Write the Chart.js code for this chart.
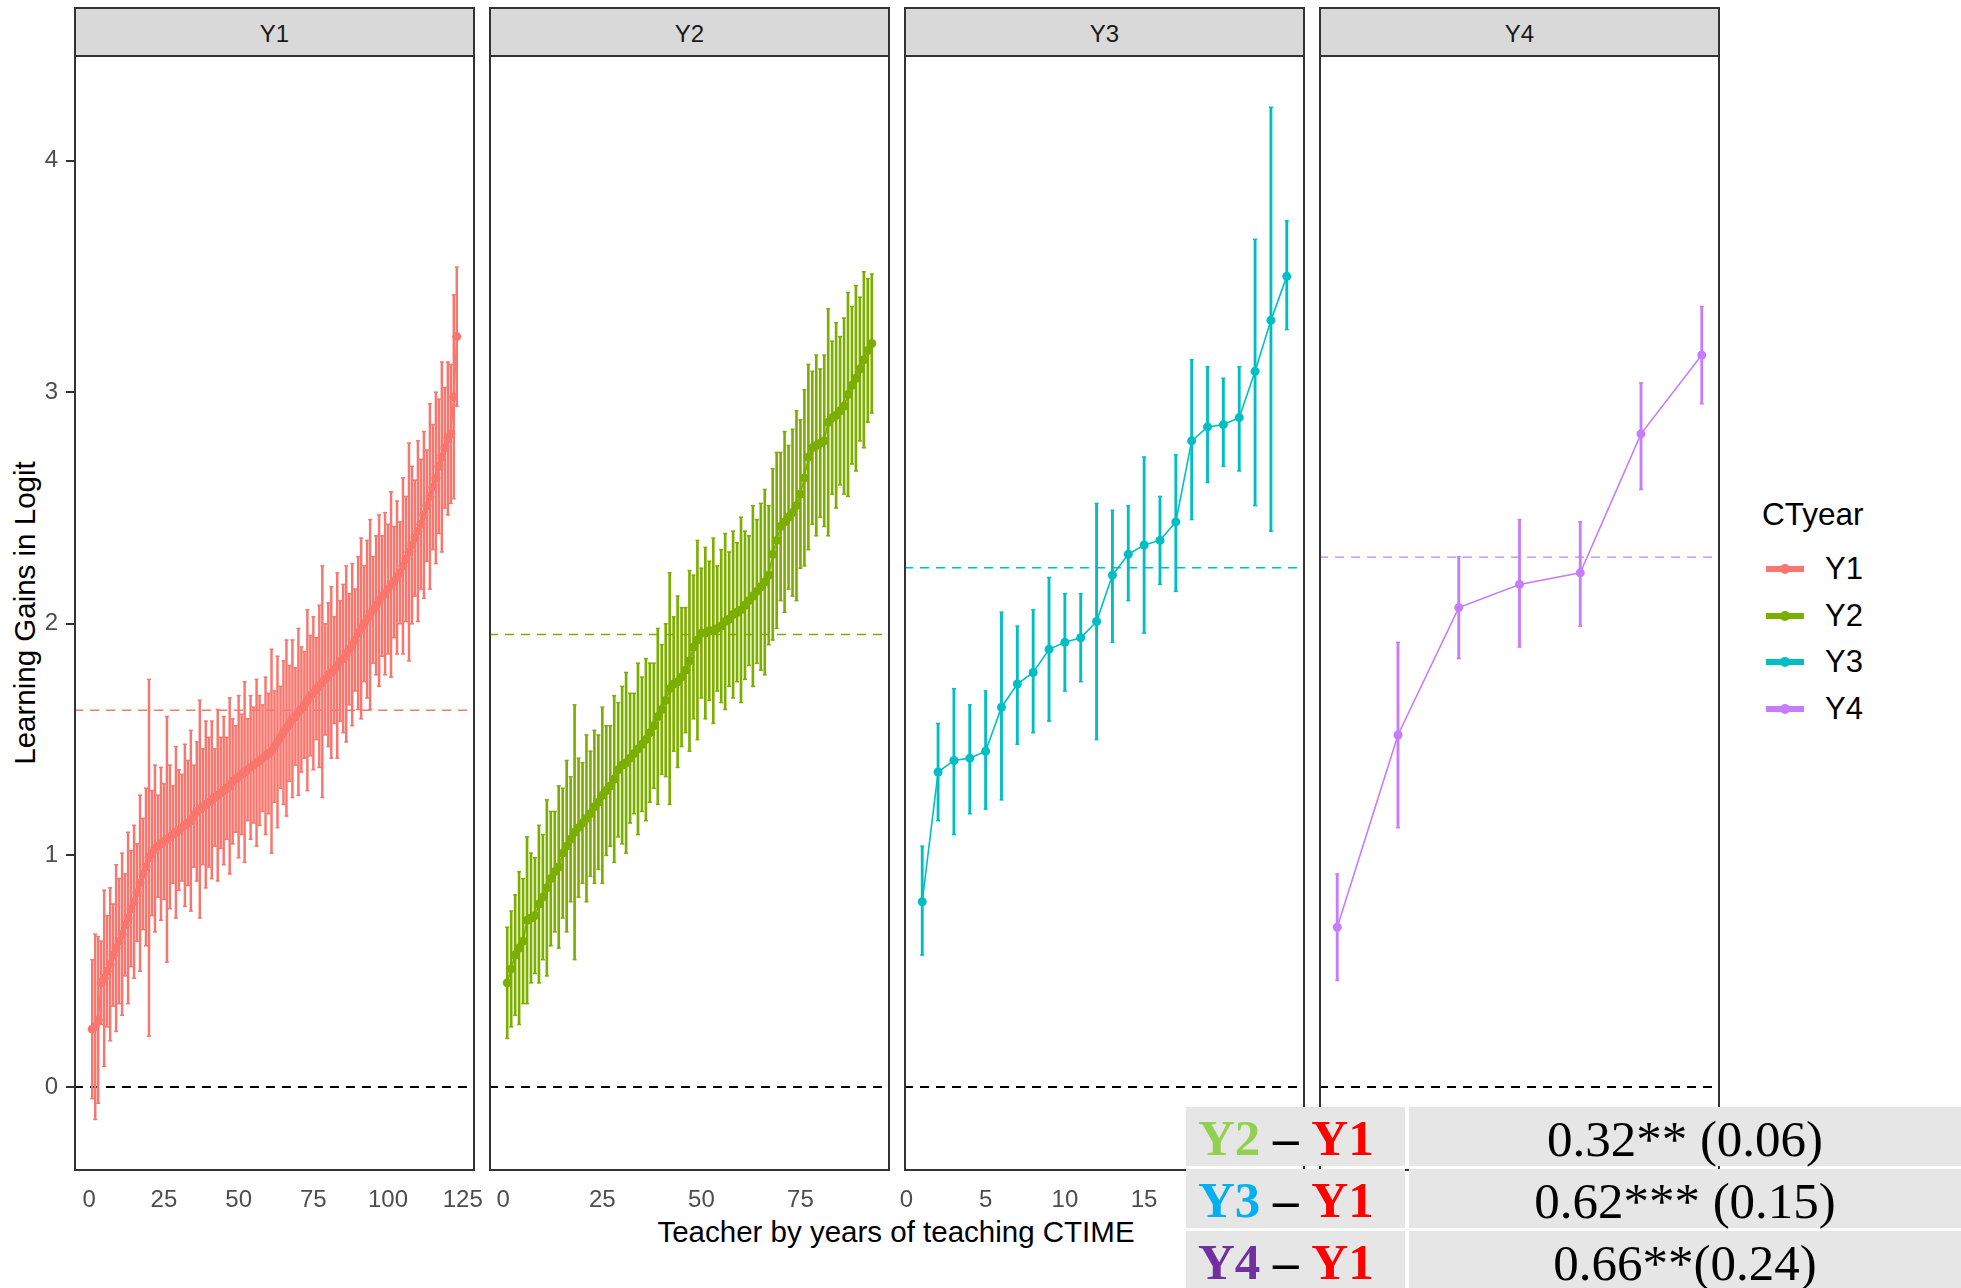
<!DOCTYPE html>
<html>
<head>
<meta charset="utf-8">
<script src="https://cdn.jsdelivr.net/npm/chart.js@4.4.1/dist/chart.umd.min.js"></script>
<style>
  body { margin: 0; background: #fff; }
  #page { position: relative; width: 1961px; height: 1288px; overflow: hidden; font-family: "Liberation Sans", Arial, sans-serif; }
  #page canvas { position: absolute; top: 0; }
  .strip { position: absolute; top: 7px; height: 50px; width: 401px; box-sizing: border-box; background: #d9d9d9; border: 2px solid #333; color: #1a1a1a; font-size: 24px; padding-top: 4px; display: flex; align-items: center; justify-content: center; z-index: 2; }
  .frame { position: absolute; top: 55px; height: 1116px; width: 401px; box-sizing: border-box; border: 2px solid #333; pointer-events: none; z-index: 2; }
  .axis-title { position: absolute; white-space: nowrap; font-size: 29.5px; color: #000; transform: translate(-50%, -50%); }
  #ytitle { left: 25px; top: 613px; transform: translate(-50%, -50%) rotate(-90deg); }
  #xtitle { left: 896px; top: 1232px; }
  #legend { position: absolute; left: 1762px; top: 494px; z-index: 2; }
  #legend .title { font-size: 31.5px; color: #000; height: 40px; line-height: 40px; margin-bottom: 12px; }
  #legend .item { position: relative; height: 46.7px; }
  #legend .key { position: absolute; left: 4px; top: 20px; width: 38px; height: 6px; }
  #legend .dot { position: absolute; left: 18px; top: 18px; width: 10px; height: 10px; border-radius: 50%; }
  #legend .label { position: absolute; left: 63px; top: 3px; font-size: 31px; line-height: 40px; color: #000; }
  #effects { position: absolute; left: 1186px; top: 1107px; width: 775px; height: 181px; z-index: 3; font-family: "Liberation Serif", "Times New Roman", serif; }
  #effects .cell { position: absolute; height: 59px; background: #e7e6e6; display: flex; align-items: center; }
  #effects .c1 { left: 0; width: 219px; font-weight: bold; font-size: 51px; padding-left: 12px; padding-top: 3px; box-sizing: border-box; }
  #effects .c2 { left: 223px; width: 552px; justify-content: center; font-size: 51px; padding-top: 4px; box-sizing: border-box; }
</style>
</head>
<body>
<div id="page">
  <div id="ytitle" class="axis-title">Learning Gains in Logit</div>
  <div id="xtitle" class="axis-title">Teacher by years of teaching CTIME</div>
  <div id="legend"></div>
  <div id="effects"></div>
</div>
<script>
// facet labels and axis breaks
const panelNames = ["Y1", "Y2", "Y3", "Y4"];
const yTicks = [0, 1, 2, 3, 4];
const xTicksY1 = [0, 25, 50, 75, 100, 125];
const xTicksY2 = [0, 25, 50, 75];
const xTicksY3 = [0, 5, 10, 15, 20, 25];
const xTicksY4 = [2, 4, 6];

// Y1 teachers, sorted by gain: estimate and half width of the 95% interval
const y1Mean = [
  0.25, 0.26, 0.29, 0.45, 0.47, 0.50, 0.53, 0.57, 0.60, 0.63,
  0.66, 0.70, 0.73, 0.77, 0.80, 0.84, 0.88, 0.92, 0.95, 0.99,
  1.01, 1.03, 1.04, 1.05, 1.06, 1.07, 1.08, 1.09, 1.10, 1.11,
  1.12, 1.13, 1.14, 1.15, 1.17, 1.19, 1.20, 1.21, 1.22, 1.23,
  1.24, 1.25, 1.26, 1.27, 1.28, 1.29, 1.30, 1.32, 1.33, 1.34,
  1.35, 1.36, 1.37, 1.38, 1.39, 1.40, 1.41, 1.42, 1.43, 1.44,
  1.45, 1.47, 1.49, 1.51, 1.53, 1.55, 1.57, 1.59, 1.60, 1.62,
  1.63, 1.65, 1.67, 1.69, 1.70, 1.72, 1.73, 1.75, 1.76, 1.78,
  1.79, 1.80, 1.82, 1.84, 1.85, 1.87, 1.89, 1.91, 1.93, 1.96,
  1.98, 2.00, 2.02, 2.04, 2.06, 2.08, 2.10, 2.12, 2.13, 2.15,
  2.17, 2.18, 2.20, 2.22, 2.25, 2.28, 2.31, 2.34, 2.37, 2.40,
  2.43, 2.47, 2.51, 2.55, 2.59, 2.63, 2.68, 2.72, 2.76, 2.80,
  2.82, 2.98, 3.24
];
const y1Half = [
  0.30, 0.40, 0.36, 0.18, 0.38, 0.24, 0.33, 0.22, 0.36, 0.27,
  0.35, 0.22, 0.37, 0.25, 0.33, 0.21, 0.38, 0.24, 0.34, 0.77,
  0.27, 0.36, 0.22, 0.33, 0.25, 0.53, 0.31, 0.21, 0.37, 0.26,
  0.23, 0.35, 0.27, 0.39, 0.22, 0.30, 0.47, 0.25, 0.36, 0.28,
  0.34, 0.21, 0.37, 0.24, 0.32, 0.22, 0.38, 0.27, 0.23, 0.35,
  0.26, 0.39, 0.22, 0.31, 0.25, 0.36, 0.28, 0.23, 0.34, 0.26,
  0.44, 0.24, 0.37, 0.22, 0.31, 0.38, 0.25, 0.34, 0.21, 0.36,
  0.27, 0.23, 0.39, 0.26, 0.33, 0.22, 0.35, 0.50, 0.24, 0.31,
  0.37, 0.23, 0.40, 0.26, 0.32, 0.38, 0.24, 0.35, 0.22, 0.33,
  0.39, 0.25, 0.34, 0.41, 0.23, 0.30, 0.37, 0.26, 0.35, 0.28,
  0.40, 0.24, 0.33, 0.22, 0.38, 0.27, 0.47, 0.34, 0.25, 0.39,
  0.28, 0.36, 0.24, 0.40, 0.27, 0.37, 0.29, 0.41, 0.26, 0.33,
  0.30, 0.44, 0.30
];

// Y2 teachers
const y2Mean = [
  0.45, 0.51, 0.57, 0.60, 0.63, 0.72, 0.73, 0.74, 0.79, 0.82,
  0.86, 0.90, 0.93, 0.95, 1.01, 1.04, 1.07, 1.10, 1.12, 1.14,
  1.16, 1.18, 1.21, 1.23, 1.26, 1.28, 1.30, 1.33, 1.37, 1.39,
  1.40, 1.42, 1.44, 1.46, 1.48, 1.50, 1.53, 1.56, 1.60, 1.63,
  1.67, 1.72, 1.74, 1.75, 1.77, 1.80, 1.84, 1.90, 1.93, 1.96,
  1.96, 1.97, 1.97, 1.98, 1.99, 2.01, 2.02, 2.04, 2.05, 2.06,
  2.08, 2.10, 2.12, 2.14, 2.16, 2.18, 2.21, 2.30, 2.36, 2.42,
  2.44, 2.46, 2.48, 2.51, 2.56, 2.63, 2.72, 2.76, 2.77, 2.78,
  2.79, 2.87, 2.89, 2.90, 2.92, 2.94, 2.99, 3.03, 3.06, 3.10,
  3.14, 3.18, 3.21
];
const y2Half = [
  0.24, 0.25, 0.26, 0.33, 0.27, 0.36, 0.28, 0.25, 0.34, 0.27,
  0.38, 0.29, 0.26, 0.35, 0.28, 0.37, 0.27, 0.55, 0.30, 0.26,
  0.36, 0.27, 0.33, 0.29, 0.38, 0.28, 0.26, 0.36, 0.29, 0.34,
  0.39, 0.28, 0.26, 0.37, 0.29, 0.35, 0.30, 0.27, 0.38, 0.28,
  0.33, 0.50, 0.29, 0.37, 0.30, 0.27, 0.39, 0.31, 0.43, 0.28,
  0.37, 0.30, 0.40, 0.27, 0.33, 0.38, 0.29, 0.36, 0.30, 0.40,
  0.32, 0.28, 0.39, 0.31, 0.36, 0.40, 0.30, 0.37, 0.38, 0.32,
  0.39, 0.31, 0.36, 0.41, 0.32, 0.38, 0.40, 0.33, 0.39, 0.32,
  0.37, 0.49, 0.33, 0.40, 0.32, 0.38, 0.44, 0.34, 0.40, 0.31,
  0.38, 0.31, 0.30
];

// Y3 teachers: estimate with lower and upper interval bounds
const y3Mean = [0.80, 1.36, 1.41, 1.42, 1.45, 1.64, 1.74, 1.79, 1.89, 1.92, 1.94, 2.01,
                2.21, 2.30, 2.34, 2.36, 2.44, 2.79, 2.85, 2.86, 2.89, 3.09, 3.31, 3.50];
const y3Lower = [0.57, 1.15, 1.09, 1.18, 1.20, 1.24, 1.48, 1.53, 1.58, 1.71, 1.75, 1.50,
                 1.92, 2.10, 1.96, 2.17, 2.14, 2.45, 2.61, 2.68, 2.66, 2.51, 2.40, 3.27];
const y3Upper = [1.04, 1.57, 1.72, 1.65, 1.71, 2.05, 1.99, 2.06, 2.20, 2.13, 2.13, 2.52,
                 2.49, 2.51, 2.72, 2.55, 2.73, 3.14, 3.11, 3.06, 3.11, 3.66, 4.23, 3.74];

// Y4 teachers
const y4Mean = [0.69, 1.52, 2.07, 2.17, 2.22, 2.82, 3.16];
const y4Lower = [0.46, 1.12, 1.85, 1.90, 1.99, 2.58, 2.95];
const y4Upper = [0.92, 1.92, 2.29, 2.45, 2.44, 3.04, 3.37];

// mean gain of each cohort (dashed reference lines)
const groupMeans = [1.627, 1.954, 2.242, 2.288];

// contrasts against Y1
const contrastYears = ["Y2", "Y3", "Y4"];
const contrastBase = ["Y1", "Y1", "Y1"];
const contrastEstimates = ["0.32** (0.06)", "0.62*** (0.15)", "0.66**(0.24)"];

// styling
const seriesColors = ["#F8766D", "#7CAE00", "#00BFC4", "#C77CFF"];
const contrastColors = { Y1: "#FF0000", Y2: "#92D050", Y3: "#00B0F0", Y4: "#7030A0" };
const barWidths = [1.8, 2, 2.2, 2.2];
const panelLefts = [74, 489, 904, 1319];
const panelWidth = 401;
const yAxisWidth = 74;

Chart.defaults.font.family = "'Liberation Sans', Arial, sans-serif";

const page = document.getElementById("page");

function makePanel(i, means, lows, highs, xMin, xMax, xTicks) {
  const left = panelLefts[i];
  const color = seriesColors[i];

  const strip = document.createElement("div");
  strip.className = "strip";
  strip.style.left = left + "px";
  strip.innerText = panelNames[i];
  page.appendChild(strip);

  const frame = document.createElement("div");
  frame.className = "frame";
  frame.style.left = left + "px";
  page.appendChild(frame);

  const canvas = document.createElement("canvas");
  canvas.width = yAxisWidth + panelWidth + 30;
  canvas.height = 1288;
  canvas.style.left = (left - yAxisWidth) + "px";
  page.appendChild(canvas);

  const xs = means.map((_, k) => k + 1);
  const caps = [];
  xs.forEach((x, k) => {
    caps.push({ x, y: lows[k] });
    caps.push({ x, y: highs[k] });
  });
  const showY = i === 0;

  new Chart(canvas, {
    type: "line",
    data: {
      datasets: [
        {
          type: "line",
          data: xs.map((x, k) => ({ x, y: means[k] })),
          borderColor: color,
          backgroundColor: color,
          borderWidth: 1.6,
          pointRadius: 4.5,
          pointBorderWidth: 0,
          pointBackgroundColor: color,
          tension: 0,
          order: 1,
        },
        {
          type: "bar",
          data: xs.map((x, k) => ({ x, y: [lows[k], highs[k]] })),
          backgroundColor: color,
          borderWidth: 0,
          barThickness: barWidths[i],
          grouped: false,
          order: 2,
        },
        {
          type: "line",
          data: caps,
          showLine: false,
          pointStyle: "line",
          pointRadius: 2,
          pointBorderWidth: 1.5,
          pointBorderColor: color,
          order: 2,
        },
        {
          type: "line",
          data: [{ x: xMin, y: groupMeans[i] }, { x: xMax, y: groupMeans[i] }],
          borderColor: color,
          borderWidth: 1.4,
          borderDash: [9, 7],
          pointRadius: 0,
          order: 3,
        },
        {
          type: "line",
          data: [{ x: xMin, y: 0 }, { x: xMax, y: 0 }],
          borderColor: "#000",
          borderWidth: 2,
          borderDash: [9, 7],
          pointRadius: 0,
          order: 3,
        },
      ],
    },
    options: {
      responsive: false,
      animation: false,
      devicePixelRatio: 1,
      events: [],
      layout: { padding: { left: showY ? 0 : yAxisWidth, right: 30, top: 57, bottom: 0 } },
      plugins: { legend: { display: false }, tooltip: { enabled: false } },
      scales: {
        x: {
          type: "linear",
          min: xMin,
          max: xMax,
          offset: false,
          grid: { display: false, drawTicks: false },
          border: { display: false },
          ticks: {
            color: "#4d4d4d",
            font: { size: 24 },
            padding: 16,
            maxRotation: 0,
            autoSkip: false,
            callback: (v) => String(v),
          },
          afterBuildTicks: (s) => { s.ticks = xTicks.map((v) => ({ value: v })); },
          afterFit: (s) => { s.height = 118; s.paddingLeft = 0; s.paddingRight = 0; },
        },
        y: {
          type: "linear",
          min: -0.358,
          max: 4.447,
          display: showY,
          grid: { display: true, drawOnChartArea: false, drawTicks: true, tickLength: 8, color: "#333", lineWidth: 2 },
          border: { display: false },
          ticks: {
            color: "#4d4d4d",
            font: { size: 24 },
            padding: 8,
            callback: (v) => String(v),
          },
          afterBuildTicks: (s) => { s.ticks = yTicks.map((v) => ({ value: v })); },
          afterFit: (s) => {
            if (showY) s.width = yAxisWidth;
            s.paddingTop = 0;
            s.paddingBottom = 0;
          },
        },
      },
    },
  });
}

function spread(means, halves, sign) {
  return means.map((m, k) => +(m + sign * halves[k]).toFixed(3));
}

makePanel(0, y1Mean, spread(y1Mean, y1Half, -1), spread(y1Mean, y1Half, 1), -5.1, 129.1, xTicksY1);
makePanel(1, y2Mean, spread(y2Mean, y2Half, -1), spread(y2Mean, y2Half, 1), -3.6, 97.6, xTicksY2);
makePanel(2, y3Mean, y3Lower, y3Upper, -0.15, 25.15, xTicksY3);
makePanel(3, y4Mean, y4Lower, y4Upper, 0.7, 7.3, xTicksY4);

// legend
const legend = document.getElementById("legend");
legend.innerHTML = '<div class="title">CTyear</div>';
panelNames.forEach((name, i) => {
  const item = document.createElement("div");
  item.className = "item";
  item.innerHTML =
    `<span class="key" style="background:${seriesColors[i]}"></span>` +
    `<span class="dot" style="background:${seriesColors[i]}"></span>` +
    `<span class="label">${name}</span>`;
  legend.appendChild(item);
});

// contrast table
const effects = document.getElementById("effects");
contrastYears.forEach((yr, r) => {
  const top = r * 62;
  const c1 = document.createElement("div");
  c1.className = "cell c1";
  c1.style.top = top + "px";
  c1.innerHTML =
    `<span style="color:${contrastColors[yr]}">${yr}</span>&nbsp;–&nbsp;` +
    `<span style="color:${contrastColors[contrastBase[r]]}">${contrastBase[r]}</span>`;
  const c2 = document.createElement("div");
  c2.className = "cell c2";
  c2.style.top = top + "px";
  c2.innerText = contrastEstimates[r];
  effects.appendChild(c1);
  effects.appendChild(c2);
});
</script>
</body>
</html>
